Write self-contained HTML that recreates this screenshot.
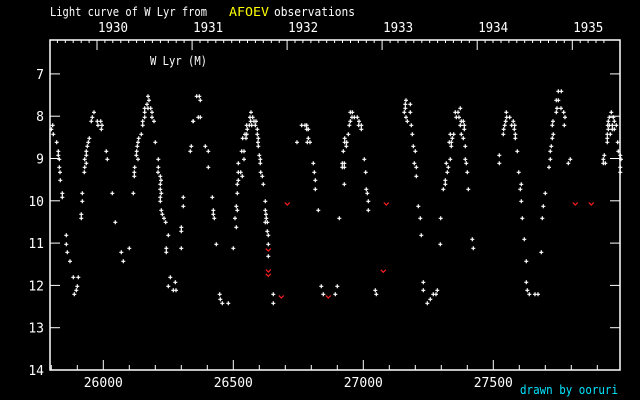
<!DOCTYPE html>
<html><head><meta charset="utf-8"><style>
html,body{margin:0;padding:0;background:#000;}
svg{display:block}
text{font-family:"DejaVu Sans Mono","Liberation Mono",monospace;fill:#fff;}
</style></head><body>
<svg id="s" width="640" height="400" xmlns="http://www.w3.org/2000/svg">
<rect width="640" height="400" fill="#000"/>
<text x="50" y="16" font-size="12" textLength="157" lengthAdjust="spacingAndGlyphs">Light curve of W Lyr from</text>
<text x="229" y="16" font-size="12" textLength="40" lengthAdjust="spacingAndGlyphs" style="fill:#ffff00">AFOEV</text>
<text x="274" y="16" font-size="12" textLength="81" lengthAdjust="spacingAndGlyphs">observations</text>
<text x="150" y="65" font-size="12" textLength="57" lengthAdjust="spacingAndGlyphs">W Lyr (M)</text>
<text x="520" y="394" font-size="12" textLength="98" lengthAdjust="spacingAndGlyphs" style="fill:#00e5ff">drawn by ooruri</text>
<g id="g"></g>
</svg>
<script>
var g=document.getElementById('g'),h='';
var L=50,R=620,T=40,B=370;
h+='<path d="M'+L+' '+T+'H'+R+'V'+B+'H'+L+'Z" fill="none" stroke="#fff" stroke-width="1.5"/>';
function X(jd){return 103.3+(jd-26000)*0.26;}
function Y(m){return 370-(14-m)*42.3;}
for(var jd=25800;jd<=27900;jd+=100){var x=X(jd).toFixed(1),maj=jd%500==0;
 h+='<line x1="'+x+'" x2="'+x+'" y1="'+B+'" y2="'+(B-(maj?10:5))+'" stroke="#fff"/>';
 if(maj)h+='<text x="'+x+'" y="387" font-size="13" text-anchor="middle">'+jd+'</text>';}
for(var m=7;m<=14;m++){var y=Y(m).toFixed(1);
 h+='<line x1="'+L+'" x2="'+(L+10)+'" y1="'+y+'" y2="'+y+'" stroke="#fff"/>';
 h+='<line x1="'+R+'" x2="'+(R-10)+'" y1="'+y+'" y2="'+y+'" stroke="#fff"/>';
 h+='<text x="44" y="'+(+y+5)+'" font-size="13" text-anchor="end">'+m+'</text>';}
var y0=97,ypx=95.05;
for(var i=-7;i<=64;i++){var x=y0+i*ypx/12;if(x<=L||x>=R)continue;var maj=i%12==0;
 h+='<line x1="'+x.toFixed(1)+'" x2="'+x.toFixed(1)+'" y1="'+T+'" y2="'+(T+(maj?10:3))+'" stroke="#fff"/>';
 if(maj)h+='<text x="'+(x+1).toFixed(1)+'" y="32" font-size="13" textLength="30" lengthAdjust="spacingAndGlyphs">'+(1930+i/12)+'</text>';}
var Z=[[48,[300,34,303,46,297,58,290,70,300,70,308,70,290,82,312,82,290,97,312,97,318,109,284,109,284,121,138,82,133,97,130,109,148,109,158,109,150,121,162,121,160,133,14,121,10,133,16,148,26,172,280,148,272,160,270,172,268,184,266,199,265,211,270,223,322,172,124,160,121,172,118,184,115,199,115,211,110,223,115,235,110,247,109,262,175,199,178,223,31,199,31,211,34,223,34,247,36,262,37,286,43,325,43,337,103,325,103,349,100,388,100,400,193,325,256,325,260,247,259,262,259,274,331,223,331,247,330,262,337,274,339,286,337,298,337,313,340,325,337,337,337,349,340,376,343,388,348,400,353,412,361,451,355,490,355,502,406,337,406,364,400,427,400,439,400,490,202,412,55,451,55,478,58,502,66,529,76,577,91,577,88,604,85,616,79,628,220,502,226,529,244,490,367,577,382,592,361,604,376,616,384,616,430,184,427,199,435,109]],
[190,[20,34,28,34,31,46,25,97,31,97,10,109,4,184,46,184,55,199,55,247,67,337,70,376,70,388,73,400,79,478,130,490,89,628,91,643,97,655,115,655,183,82,180,97,188,97,182,109,192,109,198,109,170,121,178,121,185,121,196,121,172,133,202,133,165,148,170,148,202,148,158,160,168,160,205,160,204,172,205,184,155,199,162,199,162,223,208,211,211,223,211,235,145,235,145,262,152,262,157,274,145,286,142,298,142,325,212,262,217,274,220,298,226,349,226,376,228,388,229,400,226,412,232,412,232,439,235,451,235,478,235,514,139,364,142,376,135,400,139,427,250,628,250,655,335,121,345,121,350,121,350,133,355,133,355,160,352,172,360,172,321,172,370,235,373,262,376,286,376,313,385,376,394,604,400,628]],
[332,[55,82,61,82,60,97,67,97,76,97,55,109,81,109,52,121,80,121,88,121,88,133,49,148,38,160,38,172,44,172,43,184,34,199,97,223,31,235,37,235,31,247,37,247,101,262,37,298,103,313,106,325,109,349,109,376,22,400,16,604,10,628,130,616,133,628,222,46,220,58,235,58,220,70,217,82,235,82,222,97,226,109,238,121,241,148,244,184,250,199,247,235,253,247,253,274,259,364,265,400,268,451,274,592,274,616,286,655,295,643,304,628,312,628,316,616,385,70,370,82,378,82,373,97,381,97,388,109,394,109,385,121,397,121,397,133,355,148,365,148,388,148,361,160,394,160,352,172,358,172,358,184,400,184,355,223,400,223,343,235,403,235,349,247,346,262,406,262,340,286,340,298,334,313,409,313,326,400,325,478,421,463,424,490]],
[475,[250,19,259,19,244,46,250,46,246,70,258,70,244,82,266,82,270,97,234,109,232,121,268,121,235,148,232,160,229,184,226,199,226,223,286,223,280,235,222,247,211,325,205,364,202,400,199,502,94,82,95,97,104,97,92,109,115,109,89,121,110,121,119,121,86,133,118,133,85,148,121,148,121,160,127,199,73,211,73,235,131,262,139,298,136,313,139,349,142,400,148,463,154,529,154,592,157,616,163,628,180,628,189,628,409,82,403,97,415,97,400,109,418,109,398,121,403,121,412,121,424,121,400,133,412,133,418,133,397,148,406,148,397,160,397,172,428,172,430,199,388,211,385,223,385,235,391,235,436,211,438,223,436,247,436,262]]];
var p='';
Z.forEach(function(z){var a=z[1];for(var i=0;i<a.length;i+=2){var x=(z[0]+a[i]/3),y=(85+a[i+1]/3);
 p+='M'+(x-2).toFixed(1)+' '+y.toFixed(1)+'h4M'+x.toFixed(1)+' '+(y-2).toFixed(1)+'v4';}});
h+='<path d="'+p+'" stroke="#fff" stroke-width="1.2" fill="none"/>';
var red=[[190,292,357],[190,235,495],[190,235,558],[190,235,571],[190,274,636],[190,415,636],[332,163,357],[332,154,559],[475,301,357],[475,349,357]];
var q='';red.forEach(function(r){var x=r[0]+r[1]/3,y=85+r[2]/3;q+='M'+(x-2.5).toFixed(1)+' '+(y-1.5).toFixed(1)+'l2.5 2.5l2.5 -2.5';});
h+='<path d="'+q+'" stroke="#ff2020" stroke-width="1.2" fill="none"/>';
g.innerHTML=h;
</script>
</body></html>
